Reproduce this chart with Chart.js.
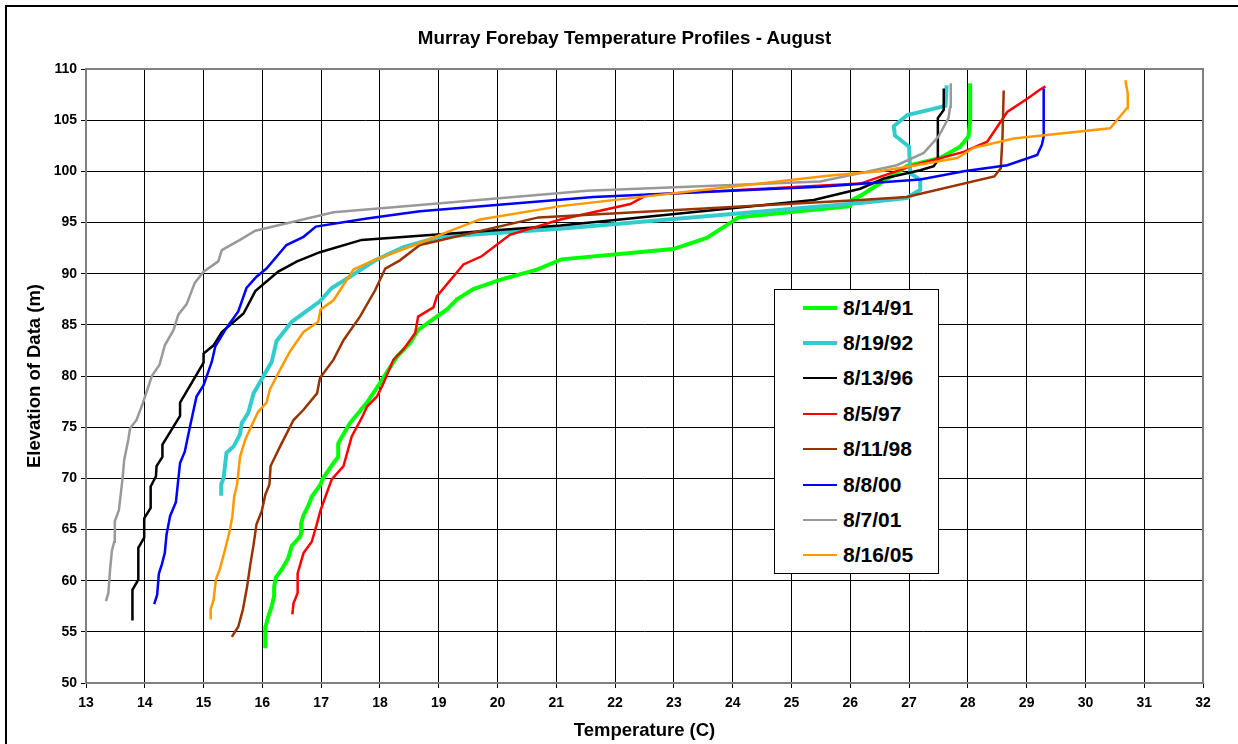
<!DOCTYPE html>
<html>
<head>
<meta charset="utf-8">
<script src="https://cdn.jsdelivr.net/npm/chart.js@4.4.1/dist/chart.umd.min.js"></script>
<style>
  html, body { margin: 0; padding: 0; background: #fff; overflow: hidden; }
  body { width: 1238px; height: 744px; position: relative; font-family: "Liberation Sans", Arial, sans-serif; }
  #frame { position: absolute; left: 5px; top: 5px; width: 1300px; height: 800px; border: 2px solid #000; }
  #chart { position: absolute; left: 0; top: 0; }
  #title { position: absolute; left: 0; width: 1249px; top: 26.7px; line-height: 22px; text-align: center; font-weight: bold; font-size: 18.8px; color: #000; white-space: nowrap; }
  #legend { position: absolute; left: 774px; top: 289px; width: 163px; height: 283px; border: 1px solid #000; background: #fff; }
  .row { height: 35.4px; display: flex; align-items: center; }
  .swatch { margin-left: 28px; width: 34px; }
  .lbl { margin-left: 6px; font-weight: bold; font-size: 21px; color: #000; }
</style>
</head>
<body>
<div id="frame"></div>
<canvas id="chart" width="1238" height="744"></canvas>
<div id="title">Murray Forebay Temperature Profiles - August</div>
<div id="legend"></div>
<script>
// dates of each profile
const labels = ['8/14/91', '8/19/92', '8/13/96', '8/5/97', '8/11/98', '8/8/00', '8/7/01', '8/16/05'];
const colors = ['#00FF00', '#33CCCC', '#000000', '#FF0000', '#993300', '#0000FF', '#999999', '#FF9900'];
const widths = [4, 4, 2.5, 2.5, 2.5, 2.5, 2.5, 2.5];

// temperature (C) / elevation (m), bottom to top
const temp91 = [16.05,16.05,16.10,16.16,16.20,16.20,16.23,16.33,16.44,16.50,16.64,16.67,16.66,16.70,16.78,16.84,16.99,17.03,17.21,17.29,17.29,17.38,17.49,17.78,18.00,18.29,18.51,18.65,19.14,19.31,19.59,20.04,20.67,21.09,22.99,23.56,24.10,26.00,26.03,26.17,26.96,27.53,27.87,28.01,28.04,28.04];
const elev91 = [53.4,55.4,56.5,57.5,58.5,59.4,60.3,61.1,62.2,63.4,64.3,64.8,65.6,66.4,67.3,68.2,69.4,70.0,71.5,72.1,73.4,74.3,75.4,77.4,79.3,81.9,83.2,84.5,86.5,87.5,88.5,89.4,90.4,91.4,92.4,93.5,95.5,96.6,97.2,97.6,100.5,101.3,102.4,103.4,105.0,108.6];

const temp92 = [15.30,15.30,15.34,15.39,15.51,15.62,15.65,15.76,15.85,16.02,16.16,16.24,16.50,16.98,17.18,17.49,17.92,18.40,19.02,21.07,26.17,26.96,27.19,27.19,27.02,27.00,26.76,26.74,26.97,27.62,27.64];
const elev92 = [68.3,69.4,70.0,72.5,73.1,74.3,75.4,76.4,78.3,80.0,81.4,83.4,85.3,87.3,88.6,89.7,91.3,92.6,93.6,94.4,96.9,97.4,98.2,99.2,99.8,102.4,103.5,104.4,105.5,106.4,108.4];

const temp96 = [13.79,13.79,13.89,13.89,13.99,13.99,14.10,14.10,14.19,14.20,14.30,14.30,14.60,14.60,15.00,15.00,15.17,15.31,15.68,15.88,16.27,16.59,16.98,17.69,18.68,21.07,25.38,26.17,26.57,27.19,27.42,27.49,27.49,27.59,27.59];
const elev96 = [56.1,59.1,60.1,63.2,64.2,66.1,67.1,69.2,70.2,71.2,72.1,73.3,76.1,77.4,81.3,82.2,83.0,84.3,86.1,88.3,90.2,91.2,92.1,93.3,93.7,94.7,97.2,98.3,99.3,100.1,100.5,101.1,105.2,106.0,108.1];

const temp97 = [16.51,16.53,16.60,16.60,16.70,16.84,16.93,16.99,17.18,17.38,17.52,17.69,17.78,17.95,18.06,18.23,18.40,18.60,18.65,18.91,18.97,19.42,19.73,20.21,21.07,22.26,22.54,26.17,26.68,27.08,27.93,28.33,28.67,29.01,29.23,29.32];
const elev97 = [56.7,57.8,58.8,60.7,62.7,63.8,65.6,66.9,69.9,71.2,74.1,75.9,77.0,78.0,79.3,81.6,82.6,84.2,85.8,86.7,87.8,90.9,91.7,93.8,95.3,96.8,97.7,98.8,99.8,100.6,101.9,102.9,105.8,107.1,108.0,108.3];

const temp98 = [15.48,15.59,15.67,15.74,15.79,15.85,15.90,15.99,16.05,16.12,16.14,16.30,16.53,16.70,16.93,16.98,17.21,17.38,17.66,17.92,18.09,18.34,18.68,20.70,26.17,26.96,28.45,28.56,28.59,28.61];
const elev98 = [54.5,55.5,57.2,59.4,61.4,63.5,65.5,66.8,68.4,69.4,71.2,73.1,75.7,76.7,78.3,79.8,81.6,83.5,85.8,88.4,90.5,91.3,92.8,95.5,97.2,97.5,99.5,100.3,103.4,107.9];

const temp00 = [14.16,14.21,14.24,14.29,14.34,14.37,14.43,14.53,14.57,14.60,14.68,14.77,14.88,15.00,15.14,15.20,15.39,15.59,15.73,15.90,16.07,16.41,16.70,16.91,17.78,18.68,21.63,25.49,27.19,27.93,28.67,29.18,29.26,29.29,29.29];
const elev00 = [57.7,58.6,60.7,61.6,62.7,64.5,66.3,67.7,69.9,71.5,72.6,75.1,78.0,79.1,81.4,82.9,84.7,86.3,88.6,89.7,90.5,92.8,93.6,94.6,95.4,96.1,97.5,98.5,99.2,100.0,100.6,101.6,102.6,103.4,108.1];

const temp01 = [13.34,13.38,13.41,13.44,13.48,13.49,13.56,13.59,13.62,13.65,13.72,13.75,13.86,13.97,14.12,14.25,14.34,14.49,14.57,14.71,14.85,15.00,15.25,15.31,15.62,15.88,17.21,18.68,21.52,25.49,26.40,26.79,27.25,27.50,27.67,27.70,27.71];
const elev01 = [58.0,58.8,61.1,62.9,63.8,65.8,66.9,68.4,69.9,71.8,73.8,74.9,75.7,77.4,80.0,81.1,83.0,84.5,86.0,87.0,89.1,90.2,91.2,92.3,93.3,94.2,96.0,96.7,98.1,99.0,100.1,100.6,101.8,103.4,105.2,106.3,108.6];

const temp05 = [15.12,15.12,15.17,15.21,15.28,15.35,15.45,15.49,15.52,15.57,15.62,15.71,15.82,15.93,16.07,16.13,16.30,16.47,16.70,16.95,16.99,17.21,17.55,17.89,18.68,19.25,19.70,21.07,25.66,26.51,27.02,27.82,28.10,28.78,30.42,30.71,30.72,30.68];
const elev05 = [56.2,57.2,58.1,60.1,61.2,62.7,65.0,66.3,68.2,69.4,72.1,73.8,75.2,76.5,77.4,78.7,80.6,82.4,84.3,85.3,86.5,87.4,90.4,91.3,93.0,94.3,95.3,96.6,99.6,100.0,100.5,101.3,102.3,103.2,104.2,106.2,107.6,108.9];

const temps = [temp91, temp92, temp96, temp97, temp98, temp00, temp01, temp05];
const elevs = [elev91, elev92, elev96, elev97, elev98, elev00, elev01, elev05];

const FONT = '"Liberation Sans", Arial, sans-serif';

const datasets = labels.map((lbl, i) => ({
    label: lbl,
    data: temps[i].map((t, k) => ({ x: t, y: elevs[i][k] })),
    showLine: true,
    borderColor: colors[i],
    backgroundColor: colors[i],
    borderWidth: widths[i],
    pointRadius: 0,
    tension: 0,
    order: -i
}));

const plotBorder = {
    id: 'plotBorder',
    beforeDatasetsDraw(chart) {
        const { ctx, chartArea: a } = chart;
        ctx.save();
        ctx.strokeStyle = '#808080';
        ctx.lineWidth = 2;
        ctx.strokeRect(a.left, a.top, a.right - a.left, a.bottom - a.top);
        ctx.restore();
    }
};

new Chart(document.getElementById('chart'), {
    type: 'scatter',
    data: { datasets },
    options: {
        responsive: false,
        animation: false,
        devicePixelRatio: 1,
        layout: { padding: { top: 69, left: 0, right: 35, bottom: 0 } },
        plugins: {
            legend: { display: false },
            tooltip: { enabled: false },
            title: { display: false }
        },
        scales: {
            x: {
                type: 'linear',
                min: 13, max: 32,
                afterFit(scale) { scale.height = 61; },
                ticks: { stepSize: 1, color: '#000', font: { family: FONT, size: 14, weight: 'bold' }, padding: 7, maxRotation: 0 },
                grid: { color: '#000', lineWidth: 1, tickLength: 5 },
                border: { display: false },
                title: {
                    display: true, text: 'Temperature (C)', color: '#000',
                    font: { family: FONT, size: 18.5, weight: 'bold' },
                    padding: { top: 0, bottom: 1.6 }
                }
            },
            y: {
                type: 'linear',
                min: 50, max: 110,
                afterFit(scale) { scale.width = 86; },
                ticks: { stepSize: 5, color: '#000', font: { family: FONT, size: 14, weight: 'bold' }, padding: 4 },
                grid: { color: '#000', lineWidth: 1, tickLength: 5 },
                border: { display: false },
                title: {
                    display: true, text: 'Elevation of Data (m)', color: '#000',
                    font: { family: FONT, size: 18.5, weight: 'bold' },
                    padding: { top: 23.9, bottom: 0 }
                }
            }
        }
    },
    plugins: [plotBorder]
});

// legend box inside the plot
const legend = document.getElementById('legend');
labels.forEach((lbl, i) => {
    const row = document.createElement('div');
    row.className = 'row';
    const sw = document.createElement('div');
    sw.className = 'swatch';
    sw.style.borderTop = widths[i] + 'px solid ' + colors[i];
    const tx = document.createElement('span');
    tx.className = 'lbl';
    tx.textContent = lbl;
    row.appendChild(sw);
    row.appendChild(tx);
    legend.appendChild(row);
});
</script>
</body>
</html>
